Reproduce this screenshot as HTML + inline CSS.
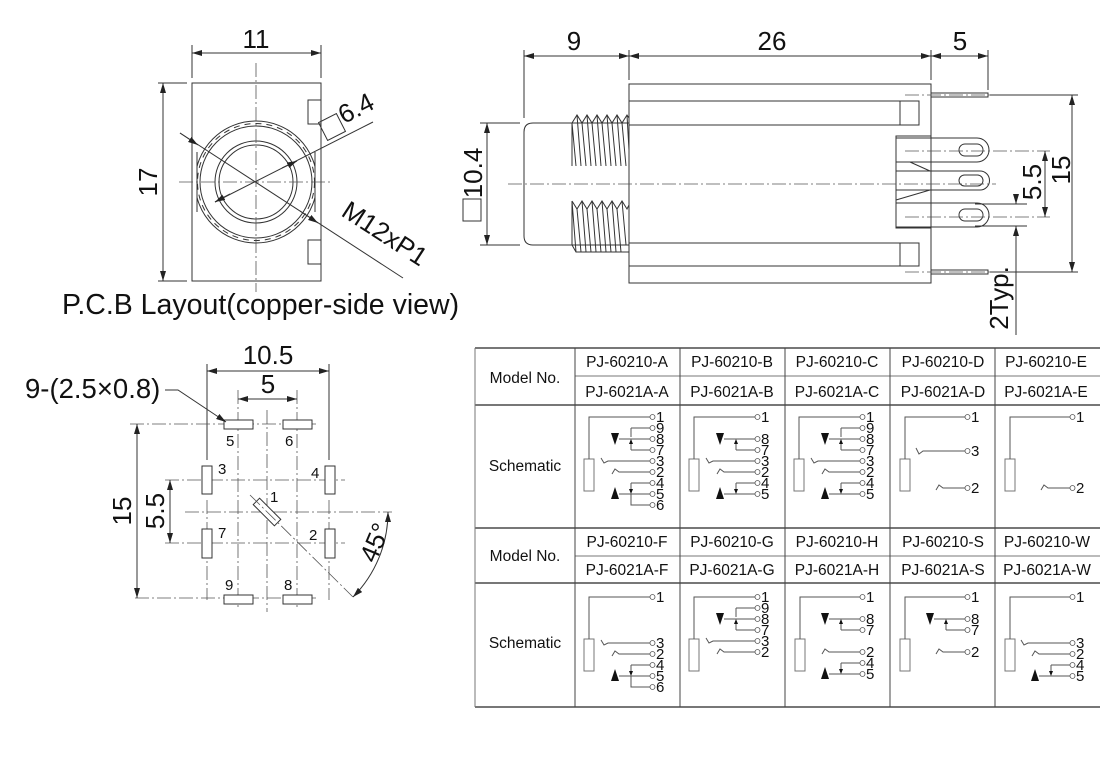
<!DOCTYPE html>
<html><head><meta charset="utf-8"><style>
html,body{margin:0;padding:0;background:#fff;}
svg{display:block;}
.l{stroke:#333;stroke-width:1;fill:none;}
.t{stroke:#777;stroke-width:1;fill:none;}
.cl{stroke:#555;stroke-width:0.8;fill:none;stroke-dasharray:14 3 2 3;}
.d{font-family:"Liberation Sans",sans-serif;font-size:26px;fill:#111;}
.s{font-family:"Liberation Sans",sans-serif;font-size:15px;fill:#111;}
.p{font-family:"Liberation Sans",sans-serif;font-size:15px;fill:#111;}
.n{font-family:"Liberation Sans",sans-serif;font-size:15.5px;fill:#111;}
.sc path{stroke:#555;stroke-width:1;fill:none;}
.sc rect{stroke:#777;stroke-width:1;fill:#fff;}
.sc circle{stroke:#555;stroke-width:0.8;fill:#fff;}
.sc polygon{fill:#111;stroke:none;}
</style></head><body>
<svg width="1120" height="780" viewBox="0 0 1120 780" xmlns="http://www.w3.org/2000/svg">
<defs>
<marker id="ar" viewBox="0 0 10 6" refX="10" refY="3" markerWidth="10" markerHeight="6" orient="auto-start-reverse" markerUnits="userSpaceOnUse"><path d="M0 0 L10 3 L0 6 z" fill="#222"/></marker>
<clipPath id="rc"><rect x="197" y="83" width="118" height="198"/></clipPath>
</defs>
<rect width="1120" height="780" fill="#fff"/>

<!-- FRONT VIEW -->
<rect class="l" x="192" y="83" width="129" height="198"/>
<rect class="l" x="308" y="100" width="13" height="24"/>
<rect class="l" x="308" y="240" width="13" height="24"/>
<g clip-path="url(#rc)"><circle class="l" cx="256" cy="182" r="61"/></g>
<line class="l" x1="197" y1="152" x2="197" y2="212"/>
<line class="l" x1="315" y1="152" x2="315" y2="212"/>
<circle class="l" cx="256" cy="182" r="56"/>
<circle class="l" cx="256" cy="182" r="58.5" stroke-dasharray="6 5" stroke-width="0.7"/>
<circle class="l" cx="256" cy="182" r="41"/>
<circle class="l" cx="256" cy="182" r="37"/>
<line class="cl" x1="256" y1="63" x2="256" y2="292"/>
<line class="cl" x1="179" y1="182" x2="333" y2="182"/>
<line class="l" x1="192" y1="78" x2="192" y2="45"/>
<line class="l" x1="321" y1="78" x2="321" y2="45"/>
<line class="l" x1="192" y1="53" x2="321" y2="53" marker-start="url(#ar)" marker-end="url(#ar)"/>
<text class="d" x="256" y="48" text-anchor="middle">11</text>
<line class="l" x1="187" y1="83" x2="158" y2="83"/>
<line class="l" x1="187" y1="281" x2="158" y2="281"/>
<line class="l" x1="163" y1="83" x2="163" y2="281" marker-start="url(#ar)" marker-end="url(#ar)"/>
<text class="d" transform="translate(157,182) rotate(-90)" text-anchor="middle">17</text>
<line class="l" x1="180" y1="133" x2="403" y2="278"/>
<line class="l" x1="180" y1="133" x2="198" y2="145" marker-end="url(#ar)"/>
<line class="l" x1="300" y1="211" x2="318" y2="223" marker-end="url(#ar)"/>
<line class="l" x1="373" y1="122" x2="215" y2="202"/>
<line class="l" x1="230" y1="194" x2="215" y2="202" marker-end="url(#ar)"/>
<line class="l" x1="282" y1="168" x2="297" y2="161" marker-end="url(#ar)"/>
<rect class="l" x="-10" y="-10" width="20" height="20" transform="translate(332,127) rotate(-27)"/>
<text class="d" transform="translate(360,116) rotate(-27)" text-anchor="middle">6.4</text>
<text class="d" transform="translate(380,241) rotate(33)" text-anchor="middle">M12xP1</text>
<text class="d" x="62" y="314" style="font-size:28.5px">P.C.B Layout(copper-side view)</text>

<!-- SIDE VIEW -->
<rect class="l" x="629" y="84" width="302" height="199"/>
<path class="l" d="M629 101 H919 V125 H629 M900 101 V125"/>
<path class="l" d="M629 243 H919 V266 H629 M900 243 V266"/>
<path class="l" d="M629 123 H533 Q524 123 524 132 V236 Q524 245 533 245 H629"/>
<path class="l" d="M572 123 L577 115 L582 123 L587 115 L592 123 L597 115 L602 123 L607 115 L612 123 L617 115 L622 123 L627 115 L629 118"/>
<path class="l" d="M577 115 L581 166 M587 115 L591 166 M597 115 L601 166 M607 115 L611 166 M617 115 L621 166 M627 115 L629 150 M572 123 L576 166 M582 123 L586 166 M592 123 L596 166 M602 123 L606 166 M612 123 L616 166 M622 123 L626 166 M572 123 V166"/>
<path class="l" d="M572 201 L577 209 L582 201 L587 209 L592 201 L597 209 L602 201 L607 209 L612 201 L617 209 L622 201 L627 209 L629 205"/>
<path class="l" d="M572 201 L576 252 M582 201 L586 252 M592 201 L596 252 M602 201 L606 252 M612 201 L616 252 M622 201 L626 245 M577 209 L581 252 M587 209 L591 252 M597 209 L601 252 M607 209 L611 252 M617 209 L621 252 M572 201 V245 L576 252 H629"/>
<rect class="l" x="931" y="93" width="57" height="4"/>
<rect class="l" x="931" y="270" width="57" height="4"/>
<rect class="l" x="896" y="136" width="35" height="92"/>
<path class="l" d="M896 138 H977 A12 12 0 0 1 977 162 H896"/>
<path class="l" d="M896 171 H980 A9.5 9.5 0 0 1 980 190 H896"/>
<path class="l" d="M896 203 H977 A12 12 0 0 1 977 227 H896"/>
<rect class="l" x="959" y="144" width="24" height="12" rx="6"/>
<rect class="l" x="959" y="175" width="24" height="11" rx="5.5"/>
<rect class="l" x="959" y="209" width="24" height="12" rx="6"/>
<path class="l" d="M910 162 L930 171 M896 200 L930 190"/>
<line class="cl" x1="508" y1="184" x2="996" y2="184"/>
<line class="cl" x1="905" y1="95" x2="1000" y2="95"/>
<line class="cl" x1="905" y1="272" x2="1000" y2="272"/>
<line class="cl" x1="905" y1="151" x2="1050" y2="151"/>
<line class="cl" x1="905" y1="217" x2="1050" y2="217"/>
<line class="l" x1="524" y1="118" x2="524" y2="50"/>
<line class="l" x1="629" y1="80" x2="629" y2="50"/>
<line class="l" x1="931" y1="80" x2="931" y2="50"/>
<line class="l" x1="988" y1="90" x2="988" y2="50"/>
<line class="l" x1="524" y1="56" x2="629" y2="56" marker-start="url(#ar)" marker-end="url(#ar)"/>
<line class="l" x1="629" y1="56" x2="931" y2="56" marker-start="url(#ar)" marker-end="url(#ar)"/>
<line class="l" x1="931" y1="56" x2="988" y2="56" marker-start="url(#ar)" marker-end="url(#ar)"/>
<text class="d" x="574" y="50" text-anchor="middle">9</text>
<text class="d" x="772" y="50" text-anchor="middle">26</text>
<text class="d" x="960" y="50" text-anchor="middle">5</text>
<line class="l" x1="520" y1="123" x2="480" y2="123"/>
<line class="l" x1="520" y1="245" x2="480" y2="245"/>
<line class="l" x1="487" y1="123" x2="487" y2="245" marker-start="url(#ar)" marker-end="url(#ar)"/>
<text class="d" transform="translate(482,173) rotate(-90)" text-anchor="middle">10.4</text>
<rect class="l" x="463" y="199" width="18" height="22"/>
<line class="l" x1="990" y1="95" x2="1078" y2="95"/>
<line class="l" x1="990" y1="272" x2="1078" y2="272"/>
<line class="l" x1="1072" y1="95" x2="1072" y2="272" marker-start="url(#ar)" marker-end="url(#ar)"/>
<text class="d" transform="translate(1070,170) rotate(-90)" text-anchor="middle">15</text>
<line class="l" x1="1045" y1="151" x2="1045" y2="217" marker-start="url(#ar)" marker-end="url(#ar)"/>
<text class="d" transform="translate(1041,182) rotate(-90)" text-anchor="middle">5.5</text>
<line class="l" x1="975" y1="204" x2="1027" y2="204"/>
<line class="l" x1="975" y1="226" x2="1027" y2="226"/>
<line class="l" x1="1016" y1="195" x2="1016" y2="204" marker-end="url(#ar)"/>
<line class="l" x1="1016" y1="226" x2="1016" y2="335"/>
<line class="l" x1="1016" y1="236" x2="1016" y2="226" marker-end="url(#ar)"/>
<text class="d" transform="translate(1008,298) rotate(-90)" text-anchor="middle">2Typ.</text>

<!-- PCB LAYOUT -->
<line class="l" x1="207" y1="364" x2="207" y2="460"/>
<line class="l" x1="329" y1="364" x2="329" y2="460"/>
<line class="cl" x1="207" y1="500" x2="207" y2="600"/>
<line class="cl" x1="329" y1="500" x2="329" y2="600"/>
<line class="cl" x1="238" y1="390" x2="238" y2="610"/>
<line class="cl" x1="297" y1="390" x2="297" y2="610"/>
<line class="cl" x1="267" y1="410" x2="267" y2="612"/>
<line class="l" x1="207" y1="371" x2="329" y2="371" marker-start="url(#ar)" marker-end="url(#ar)"/>
<text class="d" x="268" y="364" text-anchor="middle">10.5</text>
<line class="l" x1="238" y1="399" x2="297" y2="399" marker-start="url(#ar)" marker-end="url(#ar)"/>
<text class="d" x="268" y="393" text-anchor="middle">5</text>
<line class="cl" x1="130" y1="424" x2="316" y2="424"/>
<line class="cl" x1="165" y1="480" x2="345" y2="480"/>
<line class="cl" x1="185" y1="512" x2="392" y2="512"/>
<line class="cl" x1="165" y1="543" x2="345" y2="543"/>
<line class="cl" x1="135" y1="598" x2="316" y2="598"/>
<line class="l" x1="137" y1="424" x2="137" y2="598" marker-start="url(#ar)" marker-end="url(#ar)"/>
<text class="d" transform="translate(131,511) rotate(-90)" text-anchor="middle">15</text>
<line class="l" x1="170" y1="480" x2="170" y2="543" marker-start="url(#ar)" marker-end="url(#ar)"/>
<text class="d" transform="translate(164,511) rotate(-90)" text-anchor="middle">5.5</text>
<g class="l" fill="#fff">
<rect x="224" y="420" width="29" height="9" fill="#fff"/>
<rect x="283" y="420" width="29" height="9" fill="#fff"/>
<rect x="224" y="595" width="29" height="9" fill="#fff"/>
<rect x="283" y="595" width="29" height="9" fill="#fff"/>
<rect x="202" y="466" width="10" height="28" fill="#fff"/>
<rect x="325" y="466" width="10" height="28" fill="#fff"/>
<rect x="202" y="529" width="10" height="29" fill="#fff"/>
<rect x="325" y="529" width="10" height="29" fill="#fff"/>
<rect x="-15" y="-4.5" width="30" height="9" transform="translate(267,512) rotate(45)" fill="#fff"/>
</g>
<line class="cl" x1="250" y1="495" x2="353" y2="597"/>
<path class="l" d="M388 512 A121 121 0 0 1 353 597" marker-start="url(#ar)" marker-end="url(#ar)"/>
<text class="d" transform="translate(383,546) rotate(-67)" text-anchor="middle">45°</text>
<text class="d" x="25" y="398" style="font-size:27.5px">9-(2.5×0.8)</text>
<path class="l" d="M165 390 H178 L226 422" marker-end="url(#ar)"/>
<text class="p" x="226" y="446">5</text>
<text class="p" x="285" y="446">6</text>
<text class="p" x="218" y="474">3</text>
<text class="p" x="311" y="478">4</text>
<text class="p" x="270" y="502">1</text>
<text class="p" x="218" y="538">7</text>
<text class="p" x="309" y="540">2</text>
<text class="p" x="225" y="590">9</text>
<text class="p" x="284" y="590">8</text>

<!-- TABLE -->
<g class="t">
<line x1="475" y1="348" x2="1100" y2="348" stroke-width="2"/>
<line x1="575" y1="376" x2="1100" y2="376"/>
<line x1="475" y1="405" x2="1100" y2="405" stroke-width="2"/>
<line x1="475" y1="528" x2="1100" y2="528" stroke-width="2"/>
<line x1="575" y1="556" x2="1100" y2="556"/>
<line x1="475" y1="583" x2="1100" y2="583" stroke-width="2"/>
<line x1="475" y1="707" x2="1100" y2="707" stroke-width="2"/>
<line x1="475" y1="348" x2="475" y2="707"/>
<line x1="575" y1="348" x2="575" y2="707" stroke="#444"/>
<line x1="680" y1="348" x2="680" y2="707" stroke="#444"/>
<line x1="785" y1="348" x2="785" y2="707" stroke="#444"/>
<line x1="890" y1="348" x2="890" y2="707" stroke="#444"/>
<line x1="995" y1="348" x2="995" y2="707" stroke="#444"/>
</g>
<g class="n">
<text x="525" y="383" text-anchor="middle">Model No.</text>
<text x="525" y="471" text-anchor="middle">Schematic</text>
<text x="525" y="561" text-anchor="middle">Model No.</text>
<text x="525" y="648" text-anchor="middle">Schematic</text>
<text x="627" y="367" text-anchor="middle">PJ-60210-A</text>
<text x="732" y="367" text-anchor="middle">PJ-60210-B</text>
<text x="837" y="367" text-anchor="middle">PJ-60210-C</text>
<text x="943" y="367" text-anchor="middle">PJ-60210-D</text>
<text x="1046" y="367" text-anchor="middle">PJ-60210-E</text>
<text x="627" y="397" text-anchor="middle">PJ-6021A-A</text>
<text x="732" y="397" text-anchor="middle">PJ-6021A-B</text>
<text x="837" y="397" text-anchor="middle">PJ-6021A-C</text>
<text x="943" y="397" text-anchor="middle">PJ-6021A-D</text>
<text x="1046" y="397" text-anchor="middle">PJ-6021A-E</text>
<text x="627" y="547" text-anchor="middle">PJ-60210-F</text>
<text x="732" y="547" text-anchor="middle">PJ-60210-G</text>
<text x="837" y="547" text-anchor="middle">PJ-60210-H</text>
<text x="943" y="547" text-anchor="middle">PJ-60210-S</text>
<text x="1047" y="547" text-anchor="middle">PJ-60210-W</text>
<text x="627" y="575" text-anchor="middle">PJ-6021A-F</text>
<text x="732" y="575" text-anchor="middle">PJ-6021A-G</text>
<text x="837" y="575" text-anchor="middle">PJ-6021A-H</text>
<text x="943" y="575" text-anchor="middle">PJ-6021A-S</text>
<text x="1047" y="575" text-anchor="middle">PJ-6021A-W</text>
</g>

<!-- Schematic A -->
<g class="sc" transform="translate(575,0)">
<rect x="9" y="459" width="10" height="32"/>
<path d="M14 459 V417 H75"/>
<path d="M44 439 H75 M56 450 H75 M56 450 V441 M56 428 H75 M56 428 V437"/>
<polygon points="36,433 44,433 40,445"/><polygon points="54,444 58,444 56,439"/>
<path d="M26 458 L29 463 L33 461 H75"/>
<path d="M37 474 L40 469 L44 472 H75"/>
<path d="M44 494 H75 M56 483 H75 M56 483 V492 M56 494 V505 H75"/>
<polygon points="36,499 44,499 40,487"/><polygon points="54,489 58,489 56,494"/>
<circle cx="77.5" cy="417" r="2.5"/><circle cx="77.5" cy="428" r="2.5"/><circle cx="77.5" cy="439" r="2.5"/><circle cx="77.5" cy="450" r="2.5"/><circle cx="77.5" cy="461" r="2.5"/><circle cx="77.5" cy="472" r="2.5"/><circle cx="77.5" cy="483" r="2.5"/><circle cx="77.5" cy="494" r="2.5"/><circle cx="77.5" cy="505" r="2.5"/>
<g class="s"><text x="81" y="422">1</text><text x="81" y="433">9</text><text x="81" y="444">8</text><text x="81" y="455">7</text><text x="81" y="466">3</text><text x="81" y="477">2</text><text x="81" y="488">4</text><text x="81" y="499">5</text><text x="81" y="510">6</text></g>
</g>
<!-- Schematic B -->
<g class="sc" transform="translate(680,0)">
<rect x="9" y="459" width="10" height="32"/>
<path d="M14 459 V417 H75"/>
<path d="M44 439 H75 M56 450 H75 M56 450 V441"/>
<polygon points="36,433 44,433 40,445"/><polygon points="54,444 58,444 56,439"/>
<path d="M26 458 L29 463 L33 461 H75"/>
<path d="M37 474 L40 469 L44 472 H75"/>
<path d="M44 494 H75 M56 483 H75 M56 483 V492"/>
<polygon points="36,499 44,499 40,487"/><polygon points="54,489 58,489 56,494"/>
<circle cx="77.5" cy="417" r="2.5"/><circle cx="77.5" cy="439" r="2.5"/><circle cx="77.5" cy="450" r="2.5"/><circle cx="77.5" cy="461" r="2.5"/><circle cx="77.5" cy="472" r="2.5"/><circle cx="77.5" cy="483" r="2.5"/><circle cx="77.5" cy="494" r="2.5"/>
<g class="s"><text x="81" y="422">1</text><text x="81" y="444">8</text><text x="81" y="455">7</text><text x="81" y="466">3</text><text x="81" y="477">2</text><text x="81" y="488">4</text><text x="81" y="499">5</text></g>
</g>
<!-- Schematic C -->
<g class="sc" transform="translate(785,0)">
<rect x="9" y="459" width="10" height="32"/>
<path d="M14 459 V417 H75"/>
<path d="M44 439 H75 M56 450 H75 M56 450 V441 M56 428 H75 M56 428 V437"/>
<polygon points="36,433 44,433 40,445"/><polygon points="54,444 58,444 56,439"/>
<path d="M26 458 L29 463 L33 461 H75"/>
<path d="M37 474 L40 469 L44 472 H75"/>
<path d="M44 494 H75 M56 483 H75 M56 483 V492"/>
<polygon points="36,499 44,499 40,487"/><polygon points="54,489 58,489 56,494"/>
<circle cx="77.5" cy="417" r="2.5"/><circle cx="77.5" cy="428" r="2.5"/><circle cx="77.5" cy="439" r="2.5"/><circle cx="77.5" cy="450" r="2.5"/><circle cx="77.5" cy="461" r="2.5"/><circle cx="77.5" cy="472" r="2.5"/><circle cx="77.5" cy="483" r="2.5"/><circle cx="77.5" cy="494" r="2.5"/>
<g class="s"><text x="81" y="422">1</text><text x="81" y="433">9</text><text x="81" y="444">8</text><text x="81" y="455">7</text><text x="81" y="466">3</text><text x="81" y="477">2</text><text x="81" y="488">4</text><text x="81" y="499">5</text></g>
</g>
<!-- Schematic D -->
<g class="sc" transform="translate(890,0)">
<rect x="10" y="459" width="10" height="32"/>
<path d="M15 459 V417 H75"/>
<path d="M26 448 L29 454 L33 451 H75"/>
<path d="M46 490 L49 485 L53 488 H75"/>
<circle cx="77.5" cy="417" r="2.5"/><circle cx="77.5" cy="451" r="2.5"/><circle cx="77.5" cy="488" r="2.5"/>
<g class="s"><text x="81" y="422">1</text><text x="81" y="456">3</text><text x="81" y="493">2</text></g>
</g>
<!-- Schematic E -->
<g class="sc" transform="translate(995,0)">
<rect x="10" y="459" width="10" height="32"/>
<path d="M15 459 V417 H75"/>
<path d="M46 490 L49 485 L53 488 H75"/>
<circle cx="77.5" cy="417" r="2.5"/><circle cx="77.5" cy="488" r="2.5"/>
<g class="s"><text x="81" y="422">1</text><text x="81" y="493">2</text></g>
</g>

<!-- Schematic F -->
<g class="sc" transform="translate(575,0)">
<rect x="9" y="639" width="10" height="32"/>
<path d="M14 639 V597 H75"/>
<path d="M26 640 L29 645 L33 643 H75"/>
<path d="M37 656 L40 651 L44 654 H75"/>
<path d="M44 676 H75 M56 665 H75 M56 665 V674 M56 676 V687 H75"/>
<polygon points="36,681 44,681 40,669"/><polygon points="54,671 58,671 56,676"/>
<circle cx="77.5" cy="597" r="2.5"/><circle cx="77.5" cy="643" r="2.5"/><circle cx="77.5" cy="654" r="2.5"/><circle cx="77.5" cy="665" r="2.5"/><circle cx="77.5" cy="676" r="2.5"/><circle cx="77.5" cy="687" r="2.5"/>
<g class="s"><text x="81" y="602">1</text><text x="81" y="648">3</text><text x="81" y="659">2</text><text x="81" y="670">4</text><text x="81" y="681">5</text><text x="81" y="692">6</text></g>
</g>
<!-- Schematic G -->
<g class="sc" transform="translate(680,0)">
<rect x="9" y="639" width="10" height="32"/>
<path d="M14 639 V597 H75"/>
<path d="M44 619 H75 M56 630 H75 M56 630 V621 M56 608 H75 M56 608 V617"/>
<polygon points="36,613 44,613 40,625"/><polygon points="54,624 58,624 56,619"/>
<path d="M26 638 L29 643 L33 641 H75"/>
<path d="M37 654 L40 649 L44 652 H75"/>
<circle cx="77.5" cy="597" r="2.5"/><circle cx="77.5" cy="608" r="2.5"/><circle cx="77.5" cy="619" r="2.5"/><circle cx="77.5" cy="630" r="2.5"/><circle cx="77.5" cy="641" r="2.5"/><circle cx="77.5" cy="652" r="2.5"/>
<g class="s"><text x="81" y="602">1</text><text x="81" y="613">9</text><text x="81" y="624">8</text><text x="81" y="635">7</text><text x="81" y="646">3</text><text x="81" y="657">2</text></g>
</g>
<!-- Schematic H -->
<g class="sc" transform="translate(785,0)">
<rect x="10" y="639" width="10" height="32"/>
<path d="M15 639 V597 H75"/>
<path d="M44 619 H75 M56 630 H75 M56 630 V621"/>
<polygon points="36,613 44,613 40,625"/><polygon points="54,624 58,624 56,619"/>
<path d="M37 654 L40 649 L44 652 H75"/>
<path d="M44 674 H75 M56 663 H75 M56 663 V672"/>
<polygon points="36,679 44,679 40,667"/><polygon points="54,669 58,669 56,674"/>
<circle cx="77.5" cy="597" r="2.5"/><circle cx="77.5" cy="619" r="2.5"/><circle cx="77.5" cy="630" r="2.5"/><circle cx="77.5" cy="652" r="2.5"/><circle cx="77.5" cy="663" r="2.5"/><circle cx="77.5" cy="674" r="2.5"/>
<g class="s"><text x="81" y="602">1</text><text x="81" y="624">8</text><text x="81" y="635">7</text><text x="81" y="657">2</text><text x="81" y="668">4</text><text x="81" y="679">5</text></g>
</g>
<!-- Schematic S -->
<g class="sc" transform="translate(890,0)">
<rect x="10" y="639" width="10" height="32"/>
<path d="M15 639 V597 H75"/>
<path d="M44 619 H75 M56 630 H75 M56 630 V621"/>
<polygon points="36,613 44,613 40,625"/><polygon points="54,624 58,624 56,619"/>
<path d="M46 654 L49 649 L53 652 H75"/>
<circle cx="77.5" cy="597" r="2.5"/><circle cx="77.5" cy="619" r="2.5"/><circle cx="77.5" cy="630" r="2.5"/><circle cx="77.5" cy="652" r="2.5"/>
<g class="s"><text x="81" y="602">1</text><text x="81" y="624">8</text><text x="81" y="635">7</text><text x="81" y="657">2</text></g>
</g>
<!-- Schematic W -->
<g class="sc" transform="translate(995,0)">
<rect x="10" y="639" width="10" height="32"/>
<path d="M15 639 V597 H75"/>
<path d="M26 640 L29 645 L33 643 H75"/>
<path d="M37 656 L40 651 L44 654 H75"/>
<path d="M44 676 H75 M56 665 H75 M56 665 V674"/>
<polygon points="36,681 44,681 40,669"/><polygon points="54,671 58,671 56,676"/>
<circle cx="77.5" cy="597" r="2.5"/><circle cx="77.5" cy="643" r="2.5"/><circle cx="77.5" cy="654" r="2.5"/><circle cx="77.5" cy="665" r="2.5"/><circle cx="77.5" cy="676" r="2.5"/>
<g class="s"><text x="81" y="602">1</text><text x="81" y="648">3</text><text x="81" y="659">2</text><text x="81" y="670">4</text><text x="81" y="681">5</text></g>
</g>
</svg>
</body></html>
